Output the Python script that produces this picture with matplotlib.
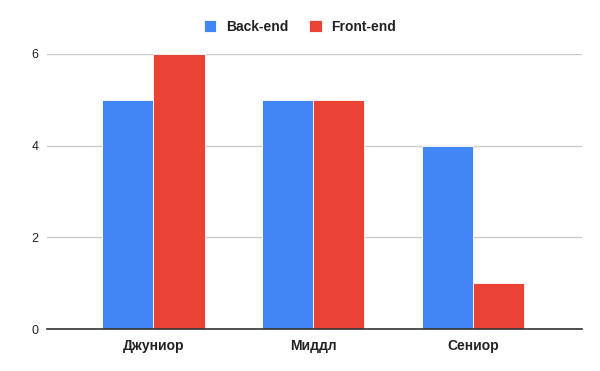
import matplotlib
matplotlib.use('Agg')
import matplotlib.pyplot as plt
import numpy as np

categories = ['Джуниор', 'Миддл', 'Сениор']
backend = [5, 5, 4]
frontend = [6, 5, 1]
yticks = [0, 2, 4, 6]

plt.rcParams['font.family'] = ['Liberation Sans', 'DejaVu Sans']

fig = plt.figure(figsize=(6.0, 3.71), dpi=100)
ax = fig.add_axes([47 / 600, 42 / 371, 535 / 600, 275 / 371])

x = np.arange(len(categories))
w = 0.32
ax.bar(x - w / 2, backend, w, color='#4285F4', edgecolor='white', linewidth=0.6, label='Back-end', zorder=3)
ax.bar(x + w / 2, frontend, w, color='#EA4335', edgecolor='white', linewidth=0.6, label='Front-end', zorder=3)

ax.set_xlim(-0.665, 2.68)
ax.set_ylim(0, 6)
ax.set_yticks(yticks)
ax.set_yticklabels([str(t) for t in yticks], fontsize=9, color='#222222')
ax.set_xticks(x)
ax.set_xticklabels(categories, fontsize=10, fontweight='bold', color='#222222')
ax.tick_params(axis='both', length=0)
ax.tick_params(axis='y', pad=6)
ax.tick_params(axis='x', pad=7)

ax.grid(axis='y', color='#cccccc', linewidth=1, zorder=0)
for s in ['top', 'right', 'left']:
    ax.spines[s].set_visible(False)
ax.spines['bottom'].set_color('#333333')
ax.spines['bottom'].set_linewidth(1.2)
ax.spines['bottom'].set_zorder(4)

leg = fig.legend(loc='center', bbox_to_anchor=(0.5, 1 - 27 / 371), ncol=2, frameon=False,
                 prop={'weight': 'bold', 'size': 10}, handlelength=0.9, handleheight=1.0,
                 handletextpad=0.7, columnspacing=1.5)
for t in leg.get_texts():
    t.set_color('#222222')

fig.savefig('out.png', dpi=100)
